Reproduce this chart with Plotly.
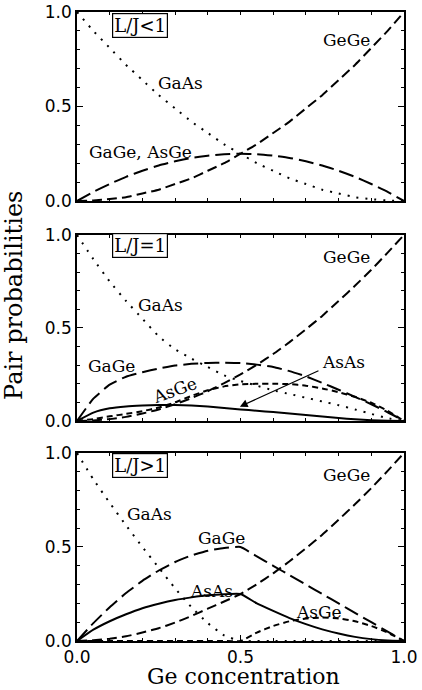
import plotly.graph_objects as go

# ---------------- data ----------------
ge_conc = [0.0, 0.05, 0.1, 0.15, 0.2, 0.25, 0.3, 0.35, 0.4, 0.45, 0.5,
           0.55, 0.6, 0.65, 0.7, 0.75, 0.8, 0.85, 0.9, 0.95, 1.0]

# panel 1 : L/J < 1
p1_gaas = [1.0, 0.90, 0.81, 0.72, 0.64, 0.56, 0.49, 0.42, 0.36, 0.30, 0.25,
           0.20, 0.16, 0.12, 0.09, 0.06, 0.04, 0.02, 0.01, 0.003, 0.0]
p1_gege = [0.0, 0.003, 0.01, 0.02, 0.04, 0.06, 0.09, 0.12, 0.16, 0.20, 0.25,
           0.30, 0.36, 0.42, 0.49, 0.56, 0.64, 0.72, 0.81, 0.90, 1.0]
p1_gage = [0.0, 0.048, 0.09, 0.128, 0.16, 0.188, 0.21, 0.228, 0.24, 0.248, 0.25,
           0.248, 0.24, 0.228, 0.21, 0.188, 0.16, 0.128, 0.09, 0.048, 0.0]

# panel 2 : L/J = 1
p2_gaas = [1.0, 0.87, 0.75, 0.645, 0.55, 0.455, 0.385, 0.335, 0.29, 0.245, 0.215,
           0.19, 0.165, 0.145, 0.125, 0.105, 0.085, 0.062, 0.038, 0.015, 0.0]
p2_gege = [0.0, 0.003, 0.01, 0.022, 0.04, 0.062, 0.09, 0.123, 0.16, 0.203, 0.25,
           0.302, 0.36, 0.424, 0.493, 0.565, 0.645, 0.727, 0.813, 0.905, 1.0]
p2_gage = [0.0, 0.12, 0.195, 0.238, 0.262, 0.282, 0.298, 0.307, 0.312, 0.313, 0.311,
           0.303, 0.29, 0.268, 0.24, 0.205, 0.168, 0.13, 0.09, 0.047, 0.0]
p2_asge = [0.0, 0.01, 0.025, 0.038, 0.053, 0.072, 0.1, 0.135, 0.165, 0.186, 0.197,
           0.2, 0.2, 0.198, 0.19, 0.175, 0.155, 0.13, 0.098, 0.055, 0.0]
p2_asas = [0.0, 0.045, 0.068, 0.078, 0.083, 0.086, 0.086, 0.083, 0.078, 0.07, 0.062,
           0.055, 0.048, 0.04, 0.032, 0.024, 0.016, 0.009, 0.004, 0.001, 0.0]

# panel 3 : L/J > 1
p3_gaas = [1.0, 0.86, 0.735, 0.615, 0.5, 0.39, 0.28, 0.18, 0.095, 0.03, 0.0,
           0.0, 0.0, 0.0, 0.0, 0.0, 0.0, 0.0, 0.0, 0.0, 0.0]
p3_gege = [0.0, 0.004, 0.012, 0.025, 0.045, 0.068, 0.098, 0.133, 0.172, 0.21, 0.25,
           0.302, 0.36, 0.424, 0.493, 0.565, 0.645, 0.727, 0.813, 0.905, 1.0]
p3_gage = [0.0, 0.095, 0.18, 0.255, 0.32, 0.375, 0.42, 0.455, 0.48, 0.495, 0.5,
           0.45, 0.4, 0.35, 0.3, 0.25, 0.2, 0.15, 0.1, 0.05, 0.0]
p3_asas = [0.0, 0.06, 0.105, 0.142, 0.174, 0.198, 0.218, 0.232, 0.243, 0.249, 0.25,
           0.2, 0.16, 0.122, 0.09, 0.062, 0.04, 0.022, 0.01, 0.003, 0.0]
p3_asge = [0.0, 0.0, 0.0, 0.0, 0.0, 0.0, 0.0, 0.0, 0.0, 0.0, 0.0,
           0.045, 0.08, 0.105, 0.12, 0.125, 0.12, 0.105, 0.08, 0.045, 0.0]

tick_vals = [0.0, 0.5, 1.0]
tick_text = ["0.0", "0.5", "1.0"]
panel_tags = ["L/J<1", "L/J=1", "L/J>1"]

# ---------------- styles ----------------
DOT = dict(color="black", width=2, dash="2px,7px")
GEGE = dict(color="black", width=2, dash="10px,5px")
LONG = dict(color="black", width=2, dash="15px,6px")
SHORT = dict(color="black", width=2, dash="6px,4px")
SOLID = dict(color="black", width=2)

fig = go.Figure()


def add(y, line, k):
    sx = "" if k == 1 else str(k)
    fig.add_trace(go.Scatter(x=ge_conc, y=y, mode="lines",
                             line=dict(**line, shape="spline", smoothing=0.4),
                             xaxis="x" + sx, yaxis="y" + sx,
                             showlegend=False, hoverinfo="skip"))


add(p1_gaas, DOT, 1)
add(p1_gege, GEGE, 1)
add(p1_gage, LONG, 1)

add(p2_gaas, DOT, 2)
add(p2_gege, GEGE, 2)
add(p2_gage, LONG, 2)
add(p2_asge, SHORT, 2)
add(p2_asas, SOLID, 2)

add(p3_gaas, DOT, 3)
add(p3_gege, GEGE, 3)
add(p3_gage, LONG, 3)
add(p3_asge, SHORT, 3)
add(p3_asas, SOLID, 3)

domains = [[0.6995, 1.0], [0.3498, 0.6455], [0.0, 0.2989]]

tickfont = dict(family="DejaVu Sans", size=17, color="black")
minor = dict(dtick=0.1, tick0=0, ticks="inside", ticklen=3, tickcolor="black", tickwidth=1)

layout = dict(
    template="none",
    width=422, height=690,
    margin=dict(l=77, r=18, t=12, b=49, autoexpand=False),
    paper_bgcolor="white", plot_bgcolor="white",
)
for k in (1, 2, 3):
    sx = "" if k == 1 else str(k)
    layout["xaxis" + sx] = dict(
        domain=[0, 1], anchor="y" + sx, range=[0, 1], automargin=False,
        tickmode="array", tickvals=tick_vals,
        ticktext=tick_text if k == 3 else ["", "", ""],
        showticklabels=(k == 3),
        ticks="inside", ticklen=6, tickwidth=1, tickcolor="black",
        minor=minor, mirror="ticks", showline=True, linecolor="black", linewidth=1.5,
        showgrid=False, zeroline=False, tickfont=tickfont,
    )
    layout["yaxis" + sx] = dict(
        domain=domains[k - 1], anchor="x" + sx, range=[0, 1], automargin=False,
        tickmode="array", tickvals=tick_vals, ticktext=tick_text,
        ticks="inside", ticklen=6, tickwidth=1, tickcolor="black",
        minor=minor, mirror="ticks", showline=True, linecolor="black", linewidth=1.5,
        showgrid=False, zeroline=False, tickfont=tickfont,
    )
fig.update_layout(**layout)

lab = dict(family="DejaVu Serif", size=17, color="black")


def note(k, x, y, text, **kw):
    sx = "" if k == 1 else str(k)
    fig.add_annotation(x=x, y=y, xref="x" + sx, yref="y" + sx, text=text,
                       xanchor="center", yanchor="middle",
                       showarrow=False, font=lab, **kw)


# boxed panel tags
for k, yy in ((1, 0.93), (2, 0.946), (3, 0.936)):
    sx = "" if k == 1 else str(k)
    fig.add_annotation(x=0.193, y=yy, xref="x" + sx, yref="y" + sx, text=panel_tags[k - 1],
                       xanchor="center", yanchor="middle",
                       showarrow=False, bordercolor="black", borderwidth=1.2, borderpad=1,
                       bgcolor="white", font=dict(family="DejaVu Serif", size=18, color="black"))

note(1, 0.823, 0.852, "GeGe")
note(1, 0.315, 0.623, "GaAs")
note(1, 0.193, 0.261, "GaGe, AsGe")

note(2, 0.823, 0.88, "GeGe")
note(2, 0.254, 0.624, "GaAs")
note(2, 0.106, 0.296, "GaGe")
note(2, 0.3, 0.165, "AsGe", textangle=-20)
note(2, 0.815, 0.319, "AsAs")
fig.add_annotation(x=0.498, y=0.077, ax=0.743, ay=0.274, xref="x2", yref="y2",
                   axref="x2", ayref="y2", text="", showarrow=True,
                   arrowhead=2, arrowsize=1.3, arrowwidth=1.2, arrowcolor="black")

note(3, 0.823, 0.883, "GeGe")
note(3, 0.223, 0.676, "GaAs")
note(3, 0.442, 0.546, "GaGe")
note(3, 0.412, 0.268, "AsAs")
note(3, 0.741, 0.156, "AsGe")

# axis titles
fig.add_annotation(x=-0.193, y=0.55, xref="paper", yref="paper", text="Pair probabilities",
                   xanchor="center", yanchor="middle",
                   textangle=-90, showarrow=False,
                   font=dict(family="DejaVu Serif", size=24, color="black"))
fig.add_annotation(x=0.51, y=-0.0572, xref="paper", yref="paper", text="Ge concentration",
                   xanchor="center", yanchor="middle",
                   showarrow=False, font=dict(family="DejaVu Serif", size=22, color="black"))

fig.write_html("out.html", config={"displayModeBar": False},
               post_script="document.body.style.margin='0px';document.body.style.overflow='hidden';")
